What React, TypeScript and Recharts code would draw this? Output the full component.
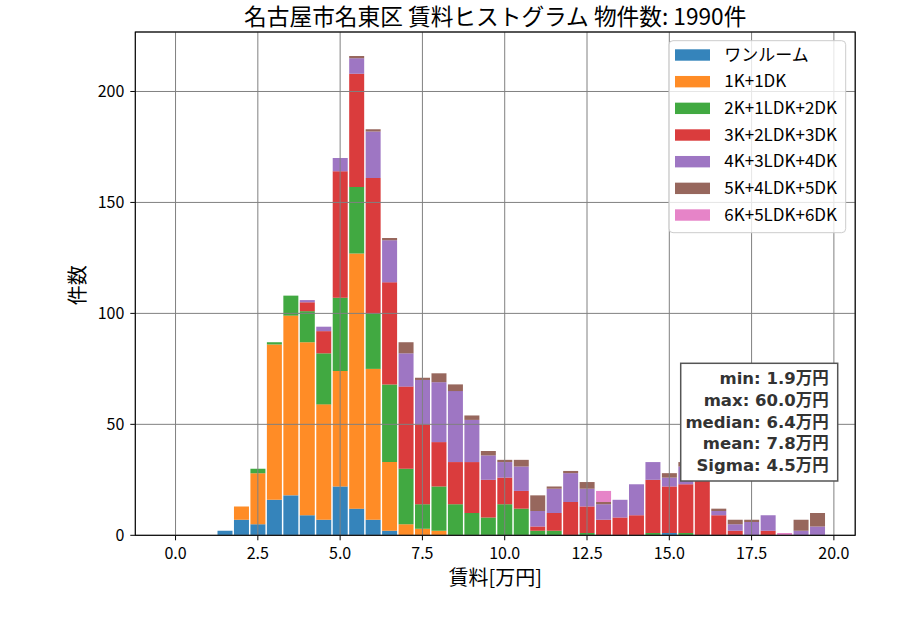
import React from 'react';
import { ComposedChart, Bar, XAxis, YAxis, CartesianGrid } from 'recharts';

// ---- data ----
const binCenters = [
  0, 0.5, 1, 1.5, 2, 2.5, 3, 3.5, 4, 4.5,
  5, 5.5, 6, 6.5, 7, 7.5, 8, 8.5, 9, 9.5,
  10, 10.5, 11, 11.5, 12, 12.5, 13, 13.5, 14, 14.5,
  15, 15.5, 16, 16.5, 17, 17.5, 18, 18.5, 19, 19.5,
];
const oneRoom = [
  0, 0, 0, 2, 7, 5, 16, 18, 9, 7,
  22, 12, 7, 2, 0, 0, 0, 0, 0, 0,
  0, 0, 0, 0, 0, 0, 0, 0, 0, 0,
  1, 0, 0, 0, 0, 0, 0, 0, 0, 0,
];
const k1dk = [
  0, 0, 0, 0, 6, 23, 70, 81, 78, 52,
  52, 115, 68, 31, 5, 3, 2, 0, 0, 0,
  0, 0, 0, 0, 0, 0, 0, 0, 0, 0,
  0, 0, 0, 0, 0, 0, 0, 0, 0, 0,
];
const k2ldk = [
  0, 0, 0, 0, 0, 2, 1, 9, 14, 23,
  33, 30, 25, 35, 25, 11, 20, 14, 10, 8,
  14, 12, 2, 2, 0, 1, 0, 0, 0, 1,
  0, 1, 0, 0, 0, 0, 0, 0, 0, 0,
];
const k3ldk = [
  0, 0, 0, 0, 0, 0, 0, 0, 4, 10,
  57, 51, 61, 46, 37, 36, 20, 19, 23, 17,
  12, 8, 2, 8, 15, 12, 7, 8, 9, 24,
  21, 22, 26, 9, 2, 0, 2, 0, 0, 0,
];
const k4ldk = [
  0, 0, 0, 0, 0, 0, 0, 0, 1, 2,
  6, 7, 21, 19, 15, 20, 27, 32, 19, 11,
  7, 11, 7, 11, 13, 8, 7, 8, 14, 8,
  4, 8, 0, 2, 3, 6, 7, 0, 2, 4,
];
const k5ldk = [
  0, 0, 0, 0, 0, 0, 0, 0, 0, 0,
  0, 1, 1, 1, 5, 1, 4, 3, 2, 2,
  1, 3, 7, 1, 1, 3, 1, 0, 0, 0,
  2, 2, 0, 1, 2, 1, 0, 0, 5, 6,
];
const k6ldk = [
  0, 0, 0, 0, 0, 0, 0, 0, 0, 0,
  0, 0, 0, 0, 0, 0, 0, 0, 0, 0,
  0, 0, 0, 0, 0, 0, 5, 0, 0, 0,
  0, 0, 0, 0, 0, 0, 0, 1, 0, 0,
];

const seriesKeys = ['s0', 's1', 's2', 's3', 's4', 's5', 's6'];
const seriesNames = ['ワンルーム', '1K+1DK', '2K+1LDK+2DK', '3K+2LDK+3DK', '4K+3LDK+4DK', '5K+4LDK+5DK', '6K+5LDK+6DK'];
const seriesColors = ['#1f77b4', '#ff7f0e', '#2ca02c', '#d62728', '#9467bd', '#8c564b', '#e377c2'];
const seriesValues = [oneRoom, k1dk, k2ldk, k3ldk, k4ldk, k5ldk, k6ldk];

const xTicks = [0, 2.5, 5, 7.5, 10, 12.5, 15, 17.5, 20];
const yTicks = [0, 50, 100, 150, 200];
const titleText = '名古屋市名東区 賃料ヒストグラム 物件数: 1990件';
const xLabel = '賃料[万円]';
const yLabel = '件数';
const statsLines = ['min: 1.9万円', 'max: 60.0万円', 'median: 6.4万円', 'mean: 7.8万円', 'Sigma: 4.5万円'];

const tableData = binCenters.map((x, i) => {
  const row: Record<string, number> = { x };
  seriesKeys.forEach((k, j) => {
    row[k] = seriesValues[j][i];
  });
  return row;
});

// ---- layout ----
const W = 900;
const H = 630;
const PL = 135.3;
const PT = 32;
const PR = 855.2;
const PB = 535.3;
const YW = 70;
const XH = 40;
const FONT = '"Noto Sans CJK JP", "Noto Sans", sans-serif';
const STATS_FONT = '"DejaVu Sans", "Noto Sans CJK JP", sans-serif';

export default function App() {
  return (
    <div style={{ position: 'absolute', left: 0, top: 0, width: W, height: H, fontFamily: FONT, background: '#fff' }}>
      <ComposedChart
        width={W}
        height={H}
        data={tableData}
        margin={{ top: PT, right: W - PR, bottom: H - PB - XH, left: PL - YW }}
        barCategoryGap="5%"
        barGap={0}
      >
        <XAxis
          dataKey="x"
          type="number"
          domain={[-1.2225, 20.6475]}
          ticks={xTicks}
          allowDataOverflow
          interval={0}
          height={XH}
          tickFormatter={(v: number) => v.toFixed(1)}
          axisLine={false}
          tickLine={{ stroke: '#000', strokeWidth: 1 }}
          tickSize={5}
          tickMargin={7}
          tick={{ fill: '#000', fontSize: 16, fontFamily: FONT }}
        />
        <YAxis
          type="number"
          domain={[0, 226.8]}
          ticks={yTicks}
          allowDataOverflow
          interval={0}
          width={YW}
          axisLine={false}
          tickLine={{ stroke: '#000', strokeWidth: 1 }}
          tickSize={5}
          tickMargin={6}
          tick={{ fill: '#000', fontSize: 16, fontFamily: FONT }}
        />
        {seriesKeys.map((k, j) => (
          <Bar
            key={k}
            dataKey={k}
            name={seriesNames[j]}
            stackId="a"
            fill={seriesColors[j]}
            fillOpacity={0.9}
            isAnimationActive={false}
          />
        ))}
        <CartesianGrid
          stroke="#808080"
          strokeWidth={1}
          // @ts-ignore
          zIndex={1000}
        />
      </ComposedChart>
      <svg
        width={W}
        height={H}
        style={{ position: 'absolute', left: 0, top: 0, pointerEvents: 'none', fontFamily: FONT }}
      >
        <rect x={PL} y={PT} width={PR - PL} height={PB - PT} fill="none" stroke="#000" strokeWidth={1.1} />
        <text x={(PL + PR) / 2} y={25} textAnchor="middle" fontSize={22.7} fill="#000">
          {titleText}
        </text>
        <text x={(PL + PR) / 2} y={585} textAnchor="middle" fontSize={20} fill="#000">
          {xLabel}
        </text>
        <text transform={`translate(85, ${(PT + PB) / 2 + 1.5}) rotate(-90)`} textAnchor="middle" fontSize={20} fill="#000">
          {yLabel}
        </text>
        {/* legend */}
        <rect x={669} y={40.7} width={176.7} height={192} rx={4} fill="#fff" fillOpacity={0.8} stroke="#cccccc" strokeWidth={1} />
        {seriesNames.map((n, j) => {
          const cy = 55 + j * 26.67;
          return (
            <g key={n}>
              <rect x={675} y={cy - 5.7} width={35} height={11.4} fill={seriesColors[j]} fillOpacity={0.9} />
              <text x={724.3} y={cy + 5.8} fontSize={17} fill="#000">
                {n}
              </text>
            </g>
          );
        })}
        {/* stats box */}
        <rect x={680.7} y={363.3} width={157} height={117.7} fill="#fff" stroke="#555" strokeWidth={1.5} />
        {statsLines.map((s, i) => (
          <text
            key={s}
            x={828.7}
            y={384.3 + i * 21.7}
            textAnchor="end"
            fontSize={16.5}
            fontWeight="bold"
            fill="#333"
            fontFamily={STATS_FONT}
          >
            {s}
          </text>
        ))}
      </svg>
    </div>
  );
}
